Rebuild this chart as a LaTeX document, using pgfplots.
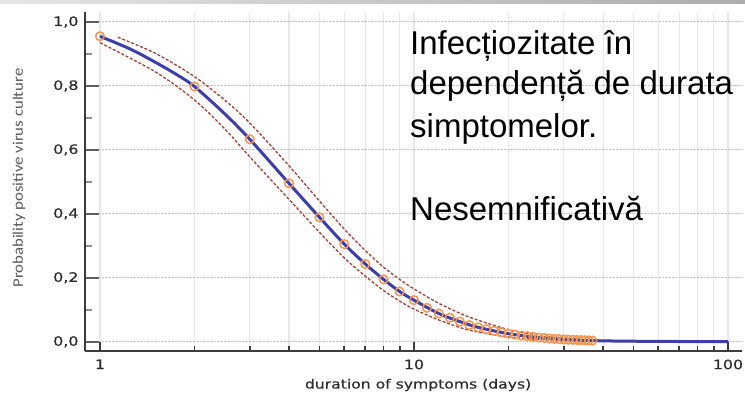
\documentclass[border=0pt]{standalone}
\usepackage{fontspec}
\setmainfont{DejaVu Sans}
\newfontfamily\bigfont{Liberation Sans}
\newfontfamily\labfont[FakeStretch=1.15]{Carlito}
\newfontfamily\tickfont[FakeStretch=1.22,FakeBold=0.6]{DejaVu Sans}
\newfontfamily\xlabfont[FakeStretch=1.22,FakeBold=0.4]{DejaVu Sans}
\usepackage{pgfplots}
\pgfplotsset{compat=1.18}
\definecolor{spine}{RGB}{60,60,60}
\definecolor{tickc}{RGB}{95,95,95}
\definecolor{fitblue}{RGB}{62,62,168}
\definecolor{obsor}{RGB}{245,150,80}
\definecolor{cired}{RGB}{160,65,55}
\definecolor{txtc}{RGB}{45,45,45}

\pgfplotstableread{
x y
1 0.955
2 0.798
3 0.633
4 0.495
5 0.389
6 0.305
7 0.243
8 0.195
9 0.157
10 0.130
11 0.106
12 0.088
13 0.075
14 0.063
15 0.052
16 0.045
17 0.039
18 0.034
19 0.029
20 0.025
21 0.022
22 0.019
23 0.017
24 0.015
25 0.013
26 0.012
27 0.010
28 0.009
29 0.008
30 0.007
31 0.0065
32 0.006
33 0.0055
34 0.005
35 0.0045
36 0.004
37 0.0035
}\obstab

\pgfplotstableread{
x y
1 0.955
1.25 0.915
1.5 0.874
1.75 0.836
2 0.798
2.5 0.712
3 0.633
4 0.495
5 0.389
6 0.305
7 0.243
8 0.195
9 0.157
10 0.130
12 0.088
14 0.063
16 0.045
20 0.025
25 0.013
30 0.007
37 0.0035
45 0.002
60 0.001
80 0.0005
100 0.0003
}\fittab

\pgfplotstableread{
x y
1.14 0.952
1.5 0.902
2 0.829
2.5 0.755
3 0.684
4 0.550
5 0.440
6 0.352
7 0.285
8 0.233
9 0.195
10 0.165
12 0.120
15 0.077
20 0.038
25 0.020
30 0.011
40 0.004
60 0.0015
100 0.0005
}\uptab

\pgfplotstableread{
x y
1 0.935
1.5 0.844
2 0.756
2.5 0.665
3 0.578
4 0.445
5 0.342
6 0.262
7 0.205
8 0.160
9 0.127
10 0.102
12 0.068
15 0.036
20 0.015
25 0.007
30 0.004
40 0.0015
60 0.0005
100 0.0
}\lowtab

\begin{document}
\begin{tikzpicture}[x=1pt,y=1pt]
\path[use as bounding box] (-85,-46) rectangle (660,351);
\fill[white] (-85,-46) rectangle (660,351);
\shade[left color=gray!20, right color=gray!65] (-85,347) rectangle (660,351);
\begin{axis}[
  at={(0,0)}, anchor=south west, scale only axis,
  width=657pt, height=339pt,
  xmode=log, xmin=0.896, xmax=110.8, ymin=-0.029, ymax=1.031,
  axis x line=bottom, axis y line=left,
  axis line style={-, line width=2.8pt, spine},
  xtick={1,10,100}, xticklabels={1,10,100},
  xtick style={draw=none},
  ytick={0,0.2,0.4,0.6,0.8,1},
  minor ytick={0.1,0.3,0.5,0.7,0.9},
  tick align=inside,
  major tick length=14pt, minor tick length=7pt,
  ytick style={line width=2.4pt, tickc},
  minor y tick style={line width=1.6pt, tickc!70},
  xmajorgrids, xminorgrids, ymajorgrids,
  every axis x grid/.style={gray!18, line width=1.1pt},
  every axis y grid/.style={gray!45, densely dotted, line width=1pt},
  /pgf/number format/assume math mode=true,
  yticklabel style={font=\tickfont\fontsize{13}{13}\selectfont, text=txtc, xshift=-3pt,
    /pgf/number format/.cd, use comma, fixed, fixed zerofill, precision=1},
  xticklabel style={font=\tickfont\fontsize{13}{13}\selectfont, text=txtc, yshift=-5pt},
  xlabel={duration of symptoms (days)},
  ylabel={Probability positive virus culture},
  every axis x label/.style={at={(axis description cs:0.507,-0.1003)}, anchor=center,
    font=\xlabfont\fontsize{12.8}{13}\selectfont, text=txtc},
  every axis y label/.style={at={(axis description cs:-0.1005,0.51)}, anchor=center,
    rotate=90, font=\labfont\fontsize{14.6}{15}\selectfont, text=gray!70!black},
  clip=false,
]
\addplot[cired, line width=1.3pt, dash pattern=on 3pt off 1.8pt, smooth] table {\uptab};
\addplot[cired, line width=1.3pt, dash pattern=on 3pt off 1.8pt, smooth] table {\lowtab};
\addplot[obsor, only marks, mark=o, mark size=4.3pt, mark options={line width=1.5pt}] table {\obstab};
\addplot[fitblue, line width=3pt, smooth] table {\fittab};
\end{axis}
\begin{axis}[
  at={(0,0)}, anchor=south west, scale only axis,
  width=657pt, height=339pt,
  xmode=log, xmin=0.896, xmax=110.8, ymin=-0.029, ymax=1.031,
  axis x line=bottom, axis y line=none,
  axis line style={draw=none},
  xtick={1,10,100}, xticklabels={},
  ytick=\empty,
  tick align=inside,
  major tick length=9pt, minor tick length=5pt,
  xtick style={line width=1.8pt, spine},
]
\end{axis}
\node[anchor=base west, font=\bigfont\fontsize{33}{33}\selectfont, inner sep=0pt] at (325,296) {Infecțiozitate în};
\node[anchor=base west, font=\bigfont\fontsize{33}{33}\selectfont, inner sep=0pt] at (325,256) {dependență de durata};
\node[anchor=base west, font=\bigfont\fontsize{33}{33}\selectfont, inner sep=0pt] at (325,214) {simptomelor.};
\node[anchor=base west, font=\bigfont\fontsize{33}{33}\selectfont, inner sep=0pt] at (325,131) {Nesemnificativă};
\end{tikzpicture}
\end{document}
